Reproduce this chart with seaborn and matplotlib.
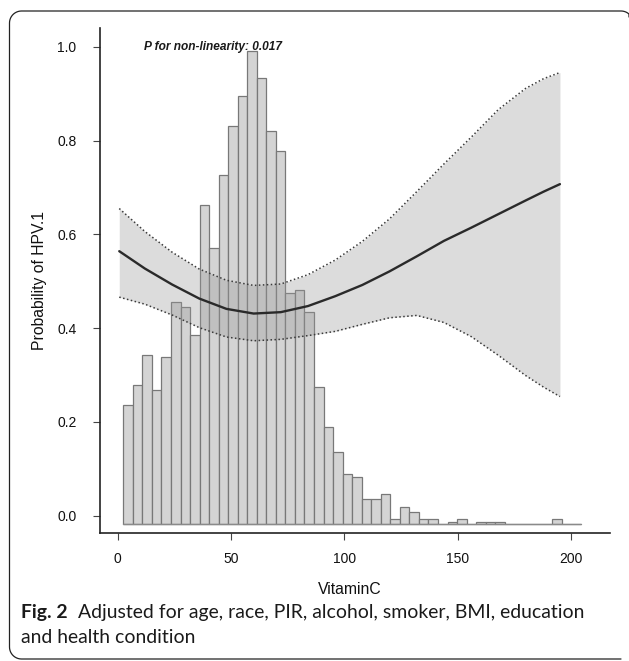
import numpy as np
import pandas as pd
import matplotlib
matplotlib.use("Agg")
import matplotlib.pyplot as plt
import seaborn as sns
from matplotlib.lines import Line2D

# ---------------- data ----------------
# histogram of VitaminC (48 equal bins between ~2.5 and ~204.5)
hist_counts = [48, 56, 68, 54, 67, 89, 87, 76, 128, 111, 140, 160, 172, 190, 179,
               158, 150, 93, 94, 85, 55, 39, 29, 20, 19, 10, 10, 12, 2, 7,
               5, 2, 2, 0, 1, 2, 0, 1, 1, 1, 0, 0, 0, 0, 0, 2, 0, 0]
hist_range = (2.5, 204.5)

# restricted cubic spline fit with 95% CI
vitc = [0.7, 12, 24, 36, 48, 60, 72, 84, 96, 108, 120, 132, 144, 156, 168, 180, 188, 195.2]
prob = [0.564, 0.527, 0.493, 0.463, 0.441, 0.431, 0.434, 0.447, 0.468, 0.492,
        0.521, 0.553, 0.586, 0.614, 0.643, 0.672, 0.691, 0.707]
upper = [0.655, 0.606, 0.562, 0.526, 0.502, 0.491, 0.494, 0.514, 0.545, 0.585,
         0.633, 0.691, 0.750, 0.807, 0.866, 0.911, 0.932, 0.945]
lower = [0.466, 0.451, 0.428, 0.401, 0.381, 0.373, 0.376, 0.384, 0.393, 0.408,
         0.422, 0.427, 0.412, 0.382, 0.342, 0.299, 0.274, 0.254]

x_ticks = [0, 50, 100, 150, 200]
y_ticks = [0.0, 0.2, 0.4, 0.6, 0.8, 1.0]
annotation = "P for non-linearity: 0.017"
x_label = "VitaminC"
y_label = "Probability of HPV.1"
caption_bold = "Fig. 2"
caption_line1 = "Adjusted for age, race, PIR, alcohol, smoker, BMI, education"
caption_line2 = "and health condition"

# ---------------- styling ----------------
sns.set_theme(style="white")
plt.rcParams["font.family"] = ["Liberation Sans", "DejaVu Sans"]
plt.rcParams["savefig.bbox"] = "standard"

W, H = 629, 661
fig = plt.figure(figsize=(W / 100, H / 100), dpi=100)
ax = fig.add_axes([100 / W, 1 - 533 / H, 510 / W, 505 / H])

# histogram (drawn on the probability axis, baseline slightly below 0)
edges = np.linspace(hist_range[0], hist_range[1], len(hist_counts) + 1)
centers = (edges[:-1] + edges[1:]) / 2
bw = edges[1] - edges[0]
base = -0.018
scale = (0.991 - base) / max(hist_counts)
heights = np.array(hist_counts) * scale
ax.bar(centers, heights, width=bw, bottom=base, color="#d4d4d4",
       edgecolor="#787878", linewidth=0.9, zorder=2)
ax.plot([edges[0], edges[-1]], [base, base], color="#8a8a8a", lw=1.0, zorder=2)

# confidence band
ax.fill_between(vitc, lower, upper, color="#9a9a9a", alpha=0.34, lw=0, zorder=3)

df = pd.DataFrame({"VitaminC": vitc, "fit": prob, "upper": upper, "lower": lower})
sns.lineplot(data=df, x="VitaminC", y="fit", color="#2a2a2a", lw=1.7, ax=ax, zorder=5)
for col in ["upper", "lower"]:
    sns.lineplot(data=df, x="VitaminC", y=col, color="#3a3a3a", lw=1.1,
                 linestyle=(0, (1, 1.6)), ax=ax, zorder=4)

ax.text(42, 1.0, annotation, fontsize=8.6, fontweight="bold", fontstyle="italic",
        ha="center", va="center", color="#1a1a1a", zorder=6)

# axes
ax.set_xlim(-7.8, 217.3)
ax.set_ylim(-0.037, 1.04)
ax.set_xticks(x_ticks)
ax.set_xticklabels([str(t) for t in x_ticks])
ax.set_yticks(y_ticks)
ax.set_yticklabels([f"{t:.1f}" for t in y_ticks])
for s in ["top", "right"]:
    ax.spines[s].set_visible(False)
for s in ["left", "bottom"]:
    ax.spines[s].set_color("#222222")
    ax.spines[s].set_linewidth(1.2)
ax.tick_params(axis="both", direction="out", length=5, width=0.8, color="#444444",
               labelsize=10, labelcolor="#111111")
ax.tick_params(axis="y", pad=12, left=True)
ax.tick_params(axis="x", pad=9, bottom=True)
ax.set_xlabel(x_label, fontsize=11.3, color="#111111")
ax.set_ylabel(y_label, fontsize=11.3, color="#111111")
ax.xaxis.set_label_coords(0.49, -0.097)
ax.yaxis.set_label_coords(-0.104, 0.5)
ax.set_facecolor("white")
ax.grid(False)

# rounded frame around the figure; only the part inside the canvas is drawn
rad = 12.0
left, top, bottom, right = 9.5, 11.0, 659.0, 633.0


def arc(cx, cy, a0, a1, n=12):
    a = np.radians(np.linspace(a0, a1, n))
    return cx + rad * np.cos(a), cy - rad * np.sin(a)


xs, ys = [], []
for seg in [arc(right - rad, top + rad, 30, 90),
            ([right - rad, left + rad], [top, top]),
            arc(left + rad, top + rad, 90, 180),
            ([left, left], [top + rad, bottom - rad]),
            arc(left + rad, bottom - rad, 180, 270),
            ([left + rad, right - rad], [bottom, bottom])]:
    xs.extend(seg[0]); ys.extend(seg[1])
xs = np.clip(np.array(xs), 0, W)
ys = np.array(ys)
fig.add_artist(Line2D(xs / W, 1 - ys / H, transform=fig.transFigure,
                      color="#222222", lw=0.9))

# caption, font size fitted to the reference line width
capfont = ["Lato", "DejaVu Sans"]
fig.canvas.draw()
r = fig.canvas.get_renderer()
x_left, x_right = 21, 583


def draw_caption(fs):
    t1 = fig.text(x_left / W, 1 - 618 / H, caption_bold, fontsize=fs, fontweight="bold",
                  family=capfont, va="baseline", ha="left", color="#1a1a1a")
    bb = t1.get_window_extent(r)
    t2 = fig.text((bb.x1 + 0.55 * fs * 100 / 72) / W, 1 - 618 / H, caption_line1,
                  fontsize=fs, family=capfont, va="baseline", ha="left", color="#1a1a1a")
    t3 = fig.text(x_left / W, 1 - 643 / H, caption_line2, fontsize=fs,
                  family=capfont, va="baseline", ha="left", color="#1a1a1a")
    return t1, t2, t3


fs = 13.0
for _ in range(4):
    t1, t2, t3 = draw_caption(fs)
    width = t2.get_window_extent(r).x1 - t1.get_window_extent(r).x0
    new_fs = fs * (x_right - x_left) / width
    t1.remove(); t2.remove(); t3.remove()
    if abs(new_fs - fs) < 0.01:
        break
    fs = new_fs
draw_caption(fs)

fig.savefig("out.png", dpi=100, facecolor="white")
